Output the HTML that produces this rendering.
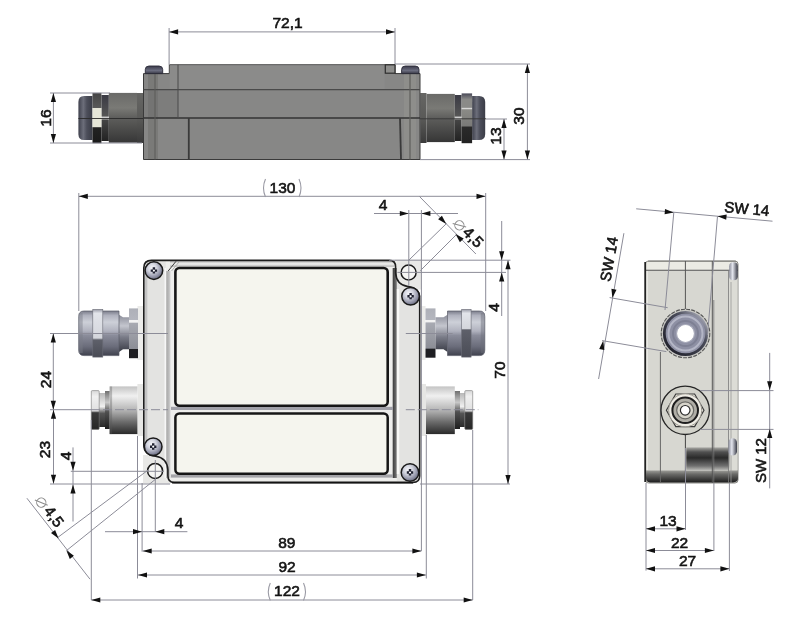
<!DOCTYPE html>
<html><head><meta charset="utf-8"><style>
html,body{margin:0;padding:0;background:#fff;width:800px;height:620px;overflow:hidden}
svg{display:block;will-change:transform}
text{font-family:"Liberation Sans",sans-serif;fill:#141414;stroke:#141414;stroke-width:0.6px}
</style></head><body>
<svg width="800" height="620" viewBox="0 0 800 620">
<defs>
<linearGradient id="gDarkCyl" x1="0" y1="0" x2="0" y2="1">
<stop offset="0" stop-color="#6a6a68"/><stop offset="0.3" stop-color="#7a7a76"/><stop offset="0.5" stop-color="#5e5e5c"/><stop offset="1" stop-color="#363636"/></linearGradient>
<linearGradient id="gDarkCapH" x1="0" y1="0" x2="1" y2="0">
<stop offset="0" stop-color="#3e404c"/><stop offset="0.35" stop-color="#6c6e7a"/><stop offset="0.6" stop-color="#4c4e5a"/><stop offset="1" stop-color="#3a3c46"/></linearGradient>
<linearGradient id="gFlangeT" x1="0" y1="0" x2="0" y2="1">
<stop offset="0" stop-color="#666664"/><stop offset="0.5" stop-color="#5a5a58"/><stop offset="1" stop-color="#3a3a3a"/></linearGradient>
<linearGradient id="gRingT" x1="0" y1="0" x2="0" y2="1">
<stop offset="0" stop-color="#3a3a44"/><stop offset="0.45" stop-color="#555"/><stop offset="0.5" stop-color="#eee"/><stop offset="0.55" stop-color="#444"/><stop offset="1" stop-color="#222"/></linearGradient>
<linearGradient id="gNutR" x1="0" y1="0" x2="0" y2="1">
<stop offset="0" stop-color="#4a4a58"/><stop offset="0.12" stop-color="#8a8a88"/><stop offset="0.28" stop-color="#8a8a88"/><stop offset="0.3" stop-color="#e0e0e0"/><stop offset="0.33" stop-color="#8a8a86"/><stop offset="0.65" stop-color="#7a7a78"/><stop offset="0.68" stop-color="#2a2a2a"/><stop offset="1" stop-color="#222"/></linearGradient>
<linearGradient id="gDarkCap" x1="0" y1="0" x2="0" y2="1">
<stop offset="0" stop-color="#4c4c54"/><stop offset="0.4" stop-color="#6a6a72"/><stop offset="1" stop-color="#3a3a40"/></linearGradient>
<linearGradient id="gNut" x1="0" y1="0" x2="0" y2="1">
<stop offset="0" stop-color="#444"/><stop offset="0.3" stop-color="#5a5a5a"/><stop offset="0.31" stop-color="#e6e6d8"/><stop offset="0.68" stop-color="#e6e6d8"/><stop offset="0.69" stop-color="#222"/><stop offset="1" stop-color="#1a1a1a"/></linearGradient>
<linearGradient id="gScrewTop" x1="0" y1="0" x2="0" y2="1">
<stop offset="0" stop-color="#3a3a4a"/><stop offset="0.6" stop-color="#6a6c7e"/><stop offset="1" stop-color="#3a3a48"/></linearGradient>
<linearGradient id="gMetal" x1="0" y1="0" x2="0" y2="1">
<stop offset="0" stop-color="#8a8c98"/><stop offset="0.25" stop-color="#d2d4dc"/><stop offset="0.55" stop-color="#a4a6b2"/><stop offset="1" stop-color="#5a5c68"/></linearGradient>
<linearGradient id="gMetal2" x1="0" y1="0" x2="0" y2="1">
<stop offset="0" stop-color="#9a9ca8"/><stop offset="0.3" stop-color="#e4e6ec"/><stop offset="0.5" stop-color="#b8bac4"/><stop offset="1" stop-color="#4a4c58"/></linearGradient>
<linearGradient id="gNutL" x1="0" y1="0" x2="0" y2="1">
<stop offset="0" stop-color="#9a9ca6"/><stop offset="0.5" stop-color="#c4c6ce"/><stop offset="0.75" stop-color="#6a6c76"/><stop offset="1" stop-color="#2a2a30"/></linearGradient>
<linearGradient id="gCyl" x1="0" y1="0" x2="0" y2="1">
<stop offset="0" stop-color="#c4c4c4"/><stop offset="0.2" stop-color="#f0f0f0"/><stop offset="0.5" stop-color="#b4b4b4"/><stop offset="0.75" stop-color="#6a6a6a"/><stop offset="1" stop-color="#2a2a2a"/></linearGradient>
<radialGradient id="gScrew" cx="0.4" cy="0.35" r="0.7">
<stop offset="0" stop-color="#f6f6fa"/><stop offset="0.35" stop-color="#d4d6e0"/><stop offset="0.75" stop-color="#8e90a4"/><stop offset="1" stop-color="#5c5e70"/></radialGradient>
<linearGradient id="gBottom" x1="0" y1="0" x2="0" y2="1">
<stop offset="0" stop-color="#9a9a96"/><stop offset="0.3" stop-color="#6a6a68"/><stop offset="1" stop-color="#1e1e1e"/></linearGradient>
<linearGradient id="gRecess" x1="0" y1="0" x2="0" y2="1">
<stop offset="0" stop-color="#a8a8a4"/><stop offset="0.2" stop-color="#505050"/><stop offset="0.45" stop-color="#2a2a2a"/><stop offset="0.8" stop-color="#707070"/><stop offset="1" stop-color="#c0c0bc"/></linearGradient>
<radialGradient id="gRingBlue" cx="0.5" cy="0.5" r="0.5">
<stop offset="0.4" stop-color="#e8e8f0"/><stop offset="0.65" stop-color="#9ea0b4"/><stop offset="0.85" stop-color="#6e7088"/><stop offset="1" stop-color="#30303a"/></radialGradient>
<linearGradient id="gScrewSide" x1="0" y1="0" x2="1" y2="0">
<stop offset="0" stop-color="#8a8c9a"/><stop offset="0.4" stop-color="#e4e6ee"/><stop offset="1" stop-color="#3a3c48"/></linearGradient>
<linearGradient id="gCap" x1="0" y1="0" x2="0" y2="1">
<stop offset="0" stop-color="#7a7c8a"/><stop offset="0.1" stop-color="#b0b2be"/><stop offset="0.25" stop-color="#cdd0d8"/><stop offset="0.45" stop-color="#b0b2be"/><stop offset="0.55" stop-color="#8a8c9a"/><stop offset="0.8" stop-color="#6a6c7a"/><stop offset="1" stop-color="#40424e"/></linearGradient>
<linearGradient id="gRingL" x1="0" y1="0" x2="0" y2="1">
<stop offset="0" stop-color="#9a9ca8"/><stop offset="0.08" stop-color="#e2e4ea"/><stop offset="0.6" stop-color="#d4d6dc"/><stop offset="0.64" stop-color="#5e606a"/><stop offset="1" stop-color="#4a4c56"/></linearGradient>
<linearGradient id="gRingR" x1="0" y1="0" x2="0" y2="1">
<stop offset="0" stop-color="#9a9ca8"/><stop offset="0.08" stop-color="#e2e4ea"/><stop offset="0.4" stop-color="#d4d6dc"/><stop offset="0.43" stop-color="#5e606a"/><stop offset="1" stop-color="#4a4c56"/></linearGradient>
<linearGradient id="gNeck" x1="0" y1="0" x2="0" y2="1">
<stop offset="0" stop-color="#8a8c98"/><stop offset="0.3" stop-color="#c4c6ce"/><stop offset="0.6" stop-color="#7a7c88"/><stop offset="1" stop-color="#3a3c46"/></linearGradient>
<linearGradient id="gHex" x1="0" y1="0" x2="0" y2="1">
<stop offset="0" stop-color="#aeb0b8"/><stop offset="0.23" stop-color="#b4b6be"/><stop offset="0.24" stop-color="#f2f2f2"/><stop offset="0.28" stop-color="#f2f2f2"/><stop offset="0.29" stop-color="#a8aab2"/><stop offset="0.81" stop-color="#8c8e96"/><stop offset="0.82" stop-color="#1e1e22"/><stop offset="1" stop-color="#1e1e22"/></linearGradient>
<linearGradient id="gWasher" x1="0" y1="0" x2="0" y2="1">
<stop offset="0" stop-color="#707070"/><stop offset="0.3" stop-color="#c8c8c8"/><stop offset="0.55" stop-color="#505050"/><stop offset="1" stop-color="#1e1e1e"/></linearGradient>
<linearGradient id="gSmallNeck" x1="0" y1="0" x2="0" y2="1">
<stop offset="0" stop-color="#b8b8b8"/><stop offset="0.4" stop-color="#f0f0f0"/><stop offset="0.6" stop-color="#555"/><stop offset="1" stop-color="#2a2a2a"/></linearGradient>
<linearGradient id="gNutS" x1="0" y1="0" x2="0" y2="1">
<stop offset="0" stop-color="#d8d8d8"/><stop offset="0.15" stop-color="#f0f0f0"/><stop offset="0.52" stop-color="#e0e0e0"/><stop offset="0.57" stop-color="#3a3a3a"/><stop offset="1" stop-color="#262626"/></linearGradient>
<linearGradient id="gLidL" x1="0" y1="0" x2="1" y2="0">
<stop offset="0" stop-color="#a8a8a8"/><stop offset="0.6" stop-color="#bcbcbc"/><stop offset="1" stop-color="#d8d8d8"/></linearGradient>
<linearGradient id="gLidR" x1="0" y1="0" x2="1" y2="0">
<stop offset="0" stop-color="#3a3a3a"/><stop offset="1" stop-color="#7a7a7a"/></linearGradient>
<linearGradient id="gLidTop" x1="0" y1="0" x2="0" y2="1">
<stop offset="0" stop-color="#b8b8b8"/><stop offset="0.5" stop-color="#f2f2f0"/><stop offset="1" stop-color="#b0b0b0"/></linearGradient>
<linearGradient id="gRingStroke" x1="1" y1="0" x2="0" y2="1">
<stop offset="0" stop-color="#c8cad8"/><stop offset="0.35" stop-color="#4a4c5a"/><stop offset="1" stop-color="#1a1a24"/></linearGradient>
</defs>
<g id="topview">
<rect x="137" y="93" width="6.5" height="50" fill="url(#gFlangeT)"/>
<rect x="108.8" y="92.9" width="28.2" height="49.8" fill="url(#gDarkCyl)"/>
<path d="M92.5,96 L84,96 Q78.4,96 78.4,102 L78.4,134 Q78.4,140 84,140 L92.5,140 Z" fill="url(#gDarkCapH)"/>
<rect x="101.4" y="95" width="7.4" height="46" fill="url(#gRingT)"/>
<rect x="92.5" y="92.9" width="8.9" height="50.3" fill="url(#gNut)"/>
<rect x="420.2" y="93" width="6.3" height="50" fill="url(#gFlangeT)"/>
<rect x="426.5" y="93.9" width="28.3" height="48.2" fill="url(#gDarkCyl)"/>
<path d="M472.1,96 L479,96 Q485.2,96 485.2,102 L485.2,134 Q485.2,140 479,140 L472.1,140 Z" fill="url(#gDarkCapH)"/>
<rect x="454.8" y="95" width="6.8" height="46" fill="url(#gRingT)"/>
<rect x="461.6" y="93.4" width="10.5" height="49.8" fill="url(#gNutR)"/>
<line x1="78.4" y1="118.5" x2="143.5" y2="118.5" stroke="#2a2a2a" stroke-width="0.9" />
<path d="M143.5,73.6 L169.3,73.6 L169.3,64.8 L395,64.8 L395,73.6 L420,73.6 L420,159.5 L143.5,159.5 Z" fill="#878786" stroke="#3a3a3a" stroke-width="1"/>
<rect x="169.8" y="65.3" width="215" height="24" fill="#8b8b8a"/>
<rect x="148" y="74" width="10" height="85" fill="#6e6e6a" opacity="0.5"/>
<rect x="404" y="74" width="12" height="85" fill="#9a9a96" opacity="0.35"/>
<rect x="144" y="90" width="34" height="28" fill="#6a6a6a" opacity="0.35"/>
<line x1="143.5" y1="89.6" x2="420.0" y2="89.6" stroke="#4a4a4a" stroke-width="1.2" />
<line x1="143.5" y1="118.0" x2="420.0" y2="118.0" stroke="#333" stroke-width="1.4" />
<line x1="178.0" y1="64.8" x2="178.0" y2="118.0" stroke="#4a4a4a" stroke-width="1" />
<line x1="188.8" y1="118.0" x2="188.8" y2="159.5" stroke="#3a3a3a" stroke-width="1.8" />
<line x1="155.0" y1="73.6" x2="155.0" y2="159.5" stroke="#5a5a58" stroke-width="1" />
<line x1="400.0" y1="118.0" x2="401.0" y2="159.5" stroke="#3a3a3a" stroke-width="1.8" />
<line x1="410.0" y1="73.6" x2="410.0" y2="159.5" stroke="#5e5e5c" stroke-width="1.2" />
<rect x="385.3" y="64.8" width="9.7" height="8.4" fill="#8e8e8c" stroke="#2e2e2e" stroke-width="1.2"/>
<path d="M145.3,73.6 L145.3,69.5 Q145.3,66 149,66 L159,66 Q162.7,66 162.7,69.5 L162.7,73.6 Z" fill="url(#gScrewTop)" stroke="#2a2a38" stroke-width="0.9"/>
<path d="M401.6,73.6 L401.6,69.5 Q401.6,66 405.3,66 L415.3,66 Q419,66 419,69.5 L419,73.6 Z" fill="url(#gScrewTop)" stroke="#2a2a38" stroke-width="0.9"/>
</g>
<g id="frontview">
<rect x="137.5" y="306" width="6" height="54" fill="#ececea"/>
<rect x="129" y="308.4" width="9" height="49.8" fill="url(#gHex)"/>
<path d="M119,314.7 L123,317.3 L129,317.3 L129,349.3 L123,349.3 L119,352 Z" fill="url(#gNeck)"/>
<path d="M84,311 L119,311 L119,355.6 L84,355.6 Q78.7,355.6 78.7,350 L78.7,316.6 Q78.7,311 84,311 Z" fill="url(#gCap)" stroke="#5a5c68" stroke-width="0.7"/>
<rect x="78.7" y="313" width="4" height="40" fill="#7a7c88" opacity="0.45"/>
<rect x="92.8" y="309.4" width="10" height="47.7" fill="url(#gRingL)" stroke="#6a6c76" stroke-width="0.6"/>
<rect x="137.4" y="384" width="6" height="52" fill="#e6e6e4"/>
<rect x="109.6" y="386.4" width="27.8" height="47.7" fill="url(#gCyl)"/>
<rect x="109.6" y="386.4" width="2.5" height="47.7" fill="#555" opacity="0.35"/>
<rect x="105" y="391" width="4.6" height="38" fill="url(#gWasher)"/>
<rect x="99" y="393" width="6" height="34" fill="url(#gSmallNeck)"/>
<rect x="91.3" y="390.6" width="7.9" height="38.8" rx="1" fill="url(#gNutS)" stroke="#777" stroke-width="0.6"/>
<rect x="420.8" y="306" width="4.7" height="54" fill="#ececea"/>
<rect x="425.5" y="308.4" width="10" height="49.3" fill="url(#gHex)"/>
<path d="M435.5,317.3 L443.5,317.3 L447.5,314.7 L447.5,352 L443.5,349.3 L435.5,349.3 Z" fill="url(#gNeck)"/>
<path d="M447.5,311 L479.5,311 Q484.8,311 484.8,316.6 L484.8,350 Q484.8,355.6 479.5,355.6 L447.5,355.6 Z" fill="url(#gCap)" stroke="#5a5c68" stroke-width="0.7"/>
<rect x="480.8" y="313" width="4" height="40" fill="#6a6c78" opacity="0.45"/>
<rect x="461.7" y="309.4" width="9.4" height="47.7" fill="url(#gRingR)" stroke="#6a6c76" stroke-width="0.6"/>
<rect x="420.8" y="384" width="5.2" height="52" fill="#e6e6e4"/>
<rect x="426" y="386.4" width="28.8" height="47.7" fill="url(#gCyl)"/>
<rect x="454.8" y="391" width="5.2" height="38" fill="url(#gWasher)"/>
<rect x="460" y="393" width="4.8" height="34" fill="url(#gSmallNeck)"/>
<rect x="464.8" y="390.6" width="7.9" height="38.8" rx="1" fill="url(#gNutS)" stroke="#777" stroke-width="0.6"/>
<rect x="395" y="259.6" width="26" height="30" fill="#e8e8e6"/>
<rect x="143" y="455" width="28" height="28.5" fill="#e8e8e6"/>
<path d="M151.5,260.4 L389.4,260.4 Q395.6,260.4 395.6,267 L395.6,273 Q396.5,285 408,286.5 Q419.7,288 419.7,298 L419.7,476 Q419.7,482.4 413,482.4 L174.1,482.4 Q167.9,482.4 167.9,475.8 L167.9,469.8 Q167,457.8 155.5,456.3 Q143.8,454.8 143.8,444.8 L143.8,268 Q143.8,260.4 151.5,260.4 Z" fill="#e3e3e1"/>
<rect x="144.8" y="268" width="2.5" height="178" fill="#c4c4c4"/>
<rect x="165.8" y="261.2" width="231" height="219.6" fill="#eeeeec"/>
<rect x="166.3" y="271" width="4.3" height="207" fill="url(#gLidL)"/>
<rect x="164.6" y="268" width="1.2" height="210" fill="#fbfbfb"/>
<rect x="392.7" y="268" width="4.1" height="210" fill="url(#gLidR)"/>
<rect x="396.8" y="289" width="2.4" height="185" fill="#f8f8f6"/>
<rect x="170" y="261.2" width="224" height="5.5" fill="url(#gLidTop)"/>
<rect x="171" y="474.4" width="222" height="3.2" fill="#a4a4a8"/>
<rect x="171" y="406.8" width="222" height="3.2" fill="#a0a0a8"/>
<path d="M168.2,271 L176,261.3" stroke="#3a3a3a" stroke-width="1" fill="none"/><path d="M171.5,271 L179,262" stroke="#9a9a9a" stroke-width="0.7" fill="none"/>
<rect x="175.4" y="268" width="212.3" height="137.8" rx="4" fill="#f5f5ee" stroke="#161616" stroke-width="2.6"/>
<rect x="175.4" y="413.4" width="212.3" height="60.3" rx="4" fill="#f5f5ee" stroke="#161616" stroke-width="2.5"/>
<path d="M151.5,260.4 L389.4,260.4 Q395.6,260.4 395.6,267 L395.6,273 Q396.5,285 408,286.5 Q419.7,288 419.7,298 L419.7,476 Q419.7,482.4 413,482.4 L174.1,482.4 Q167.9,482.4 167.9,475.8 L167.9,469.8 Q167,457.8 155.5,456.3 Q143.8,454.8 143.8,444.8 L143.8,268 Q143.8,260.4 151.5,260.4 Z" fill="none" stroke="#1e1e1e" stroke-width="1.6"/>
<line x1="172.0" y1="482.8" x2="413.0" y2="482.8" stroke="#111" stroke-width="1.3" />
<circle cx="153.9" cy="270.6" r="8.8" fill="url(#gScrew)" stroke="#1a1a1a" stroke-width="1.5"/>
<path d="M150.70000000000002,270.6 h6.4 M153.9,267.20000000000005 v6.4" stroke="#1e2030" stroke-width="2.4"/>
<circle cx="153.9" cy="270.6" r="1.1" fill="#fff"/>
<circle cx="410.6" cy="296.3" r="8.8" fill="url(#gScrew)" stroke="#1a1a1a" stroke-width="1.5"/>
<path d="M407.40000000000003,296.3 h6.4 M410.6,292.90000000000003 v6.4" stroke="#1e2030" stroke-width="2.4"/>
<circle cx="410.6" cy="296.3" r="1.1" fill="#fff"/>
<circle cx="153.2" cy="446.7" r="8.8" fill="url(#gScrew)" stroke="#1a1a1a" stroke-width="1.5"/>
<path d="M150.0,446.7 h6.4 M153.2,443.3 v6.4" stroke="#1e2030" stroke-width="2.4"/>
<circle cx="153.2" cy="446.7" r="1.1" fill="#fff"/>
<circle cx="410" cy="472.5" r="8.8" fill="url(#gScrew)" stroke="#1a1a1a" stroke-width="1.5"/>
<path d="M406.8,472.5 h6.4 M410,469.1 v6.4" stroke="#1e2030" stroke-width="2.4"/>
<circle cx="410" cy="472.5" r="1.1" fill="#fff"/>
<circle cx="408.6" cy="272.5" r="7.5" fill="#f6f6f4" stroke="#1a1a1a" stroke-width="1.5"/>
<circle cx="155.1" cy="470.9" r="7.5" fill="#f6f6f4" stroke="#1a1a1a" stroke-width="1.5"/>
</g>
<g id="sideview">
<rect x="645.5" y="261" width="92.5" height="222" rx="3" fill="#d7d7d1" stroke="#8a8a86" stroke-width="1"/>
<rect x="729" y="270" width="8.5" height="200" fill="#dcdcd6"/>
<path d="M648,261.7 L735,261.7 Q737.3,261.7 737.3,264 L737.3,270.2 L646.2,270.2 L646.2,264 Q646.2,261.7 648,261.7 Z" fill="#ebebe4"/>
<line x1="645.5" y1="270.2" x2="738.0" y2="270.2" stroke="#555" stroke-width="1.1" />
<line x1="648.0" y1="261.2" x2="736.0" y2="261.2" stroke="#7a7a76" stroke-width="1" />
<line x1="645.2" y1="262.0" x2="645.2" y2="482.0" stroke="#222" stroke-width="1.8" />
<line x1="647.2" y1="271.0" x2="647.2" y2="470.0" stroke="#f0f0ec" stroke-width="1" />
<path d="M646,470.6 L738,470.6 L738,478 Q738,482.4 733,482.4 L650,482.4 Q646,482.4 646,478 Z" fill="url(#gBottom)"/>
<rect x="686.3" y="447.4" width="43" height="23.2" fill="url(#gRecess)"/>
<line x1="685.4" y1="261.0" x2="685.4" y2="309.0" stroke="#555" stroke-width="1" />
<line x1="685.4" y1="434.0" x2="685.4" y2="483.0" stroke="#444" stroke-width="1" />
<line x1="712.3" y1="261.0" x2="712.3" y2="483.0" stroke="#555" stroke-width="1" />
<line x1="713.8" y1="300.0" x2="713.8" y2="483.0" stroke="#777" stroke-width="0.8" />
<line x1="728.5" y1="270.0" x2="728.5" y2="483.0" stroke="#7a7a7a" stroke-width="0.8" />
<line x1="731.0" y1="282.0" x2="731.0" y2="483.0" stroke="#9a9a9a" stroke-width="0.8" />
<line x1="660.4" y1="352.0" x2="660.4" y2="482.0" stroke="#666" stroke-width="1" />
<circle cx="685.5" cy="333.5" r="24.3" fill="#c8c8c4" stroke="#555" stroke-width="1.1" stroke-dasharray="4 1.2"/>
<circle cx="685.5" cy="333.5" r="21.2" fill="#8e90a4" stroke="url(#gRingStroke)" stroke-width="2.8"/>
<circle cx="685.5" cy="333.5" r="17" fill="none" stroke="#b4b6c6" stroke-width="2"/>
<circle cx="685.5" cy="333.5" r="12.5" fill="none" stroke="#7e8094" stroke-width="2"/>
<circle cx="685.5" cy="333.5" r="9" fill="#ffffff" stroke="#a8aaba" stroke-width="1.2"/>
<circle cx="685.2" cy="410.3" r="24.2" fill="#d2d2ca" stroke="#262626" stroke-width="1.3"/>
<polygon points="704,410.3 694.6,394 675.8,394 666.4,410.3 675.8,426.6 694.6,426.6" fill="#e6e4da" stroke="#3a3a3a" stroke-width="1.2"/>
<circle cx="685.2" cy="410.3" r="16.5" fill="#eeece4" stroke="#9a9890" stroke-width="1"/>
<circle cx="685.2" cy="410.3" r="12.8" fill="#b0aea6" stroke="#1e1e1e" stroke-width="2"/>
<circle cx="685.2" cy="410.3" r="8.5" fill="#d6d4ca" stroke="#6a6a66" stroke-width="1.2"/>
<circle cx="685.2" cy="410.3" r="4.8" fill="#ffffff" stroke="#2a2a2a" stroke-width="1.2"/>
<rect x="729.2" y="262.2" width="8.6" height="18" rx="4" fill="url(#gScrewSide)"/>
<rect x="728.4" y="438.2" width="8.6" height="17.4" rx="4.3" fill="url(#gScrewSide)"/>
</g>
<g id="dims">
<line x1="169.1" y1="28.0" x2="169.1" y2="64.8" stroke="#8c8c98" stroke-width="1" />
<line x1="395.0" y1="28.0" x2="395.0" y2="64.0" stroke="#8c8c98" stroke-width="1" />
<line x1="169.1" y1="31.9" x2="395.0" y2="31.9" stroke="#8c8c98" stroke-width="1" />
<polygon points="169.1,31.9 178.1,29.3 178.1,34.5" fill="#111"/>
<polygon points="395.0,31.9 386.0,34.5 386.0,29.3" fill="#111"/>
<text x="287.5" y="22.5" font-size="15.5" text-anchor="middle" dominant-baseline="central">72,1</text>
<line x1="50.0" y1="93.0" x2="110.0" y2="93.0" stroke="#8c8c98" stroke-width="1" />
<line x1="50.0" y1="143.0" x2="142.0" y2="143.0" stroke="#8c8c98" stroke-width="1" />
<line x1="53.4" y1="93.0" x2="53.4" y2="143.0" stroke="#8c8c98" stroke-width="1" />
<polygon points="53.4,93.0 56.0,102.0 50.8,102.0" fill="#111"/>
<polygon points="53.4,143.0 50.8,134.0 56.0,134.0" fill="#111"/>
<text x="45.0" y="118.0" font-size="15.5" text-anchor="middle" dominant-baseline="central" transform="rotate(-90 45.0 118.0)">16</text>
<line x1="395.0" y1="64.0" x2="530.0" y2="64.0" stroke="#8c8c98" stroke-width="1" />
<line x1="420.0" y1="159.6" x2="530.0" y2="159.6" stroke="#8c8c98" stroke-width="1" />
<line x1="527.4" y1="64.0" x2="527.4" y2="159.6" stroke="#8c8c98" stroke-width="1" />
<polygon points="527.4,64.0 530.0,73.0 524.8,73.0" fill="#111"/>
<polygon points="527.4,159.6 524.8,150.6 530.0,150.6" fill="#111"/>
<text x="518.5" y="116.0" font-size="15.5" text-anchor="middle" dominant-baseline="central" transform="rotate(-90 518.5 116.0)">30</text>
<line x1="420.0" y1="118.8" x2="486.0" y2="118.8" stroke="#3a3a3a" stroke-width="1" />
<line x1="486.0" y1="119.0" x2="507.0" y2="119.0" stroke="#8c8c98" stroke-width="1" />
<line x1="504.0" y1="119.0" x2="504.0" y2="159.6" stroke="#8c8c98" stroke-width="1" />
<polygon points="504.0,119.0 506.6,128.0 501.4,128.0" fill="#111"/>
<polygon points="504.0,159.6 501.4,150.6 506.6,150.6" fill="#111"/>
<text x="495.5" y="136.0" font-size="15.5" text-anchor="middle" dominant-baseline="central" transform="rotate(-90 495.5 136.0)">13</text>
<line x1="78.8" y1="193.0" x2="78.8" y2="311.0" stroke="#8c8c98" stroke-width="1" />
<line x1="485.7" y1="193.0" x2="485.7" y2="311.0" stroke="#8c8c98" stroke-width="1" />
<line x1="78.8" y1="196.3" x2="485.5" y2="196.3" stroke="#8c8c98" stroke-width="1" />
<polygon points="78.8,196.3 87.8,193.7 87.8,198.9" fill="#111"/>
<polygon points="485.5,196.3 476.5,198.9 476.5,193.7" fill="#111"/>
<text x="282.5" y="187.0" font-size="15.5" text-anchor="middle" dominant-baseline="central">130</text>
<path d="M265.5,179.0 Q261.5,188.0 265.5,197.0" fill="none" stroke="#9a9aa4" stroke-width="1.1"/>
<path d="M299.0,179.0 Q303.0,188.0 299.0,197.0" fill="none" stroke="#9a9aa4" stroke-width="1.1"/>
<line x1="374.0" y1="213.5" x2="458.0" y2="213.5" stroke="#8c8c98" stroke-width="1" />
<polygon points="408.8,213.5 399.8,216.1 399.8,210.9" fill="#111"/>
<polygon points="421.4,213.5 430.4,210.9 430.4,216.1" fill="#111"/>
<text x="383.0" y="204.5" font-size="15.5" text-anchor="middle" dominant-baseline="central">4</text>
<line x1="408.8" y1="210.0" x2="408.8" y2="286.0" stroke="#8c8c98" stroke-width="1" />
<line x1="421.4" y1="210.0" x2="421.4" y2="551.0" stroke="#8c8c98" stroke-width="1" />
<line x1="419.3" y1="196.3" x2="475.9" y2="254.0" stroke="#8c8c98" stroke-width="1" />
<line x1="408.8" y1="260.2" x2="446.5" y2="223.5" stroke="#8c8c98" stroke-width="1" />
<line x1="420.3" y1="270.7" x2="457.0" y2="234.0" stroke="#8c8c98" stroke-width="1" />
<polygon points="446.3,223.9 438.1,219.3 441.9,215.7" fill="#111"/>
<polygon points="455.5,234.0 463.7,238.6 459.9,242.2" fill="#111"/>
<g transform="translate(459.4 225.3) rotate(45)"><circle cx="0" cy="0" r="4.6" fill="none" stroke="#8a8a8a" stroke-width="1"/><line x1="-6" y1="3.5" x2="6" y2="-3.5" stroke="#8a8a8a" stroke-width="1"/></g>
<text x="473.3" y="237.0" font-size="15.5" text-anchor="middle" dominant-baseline="central" transform="rotate(45 473.3 237.0)">4,5</text>
<line x1="389.0" y1="260.2" x2="510.5" y2="260.2" stroke="#8c8c98" stroke-width="1" />
<line x1="397.4" y1="272.4" x2="506.0" y2="272.4" stroke="#8c8c98" stroke-width="1" />
<line x1="501.7" y1="221.0" x2="501.7" y2="316.0" stroke="#8c8c98" stroke-width="1" />
<polygon points="501.7,260.2 499.1,251.2 504.3,251.2" fill="#111"/>
<polygon points="501.7,272.6 504.3,281.6 499.1,281.6" fill="#111"/>
<text x="493.5" y="307.5" font-size="15.5" text-anchor="middle" dominant-baseline="central" transform="rotate(-90 493.5 307.5)">4</text>
<line x1="420.0" y1="484.0" x2="510.0" y2="484.0" stroke="#8c8c98" stroke-width="1" />
<line x1="508.0" y1="260.2" x2="508.0" y2="484.0" stroke="#8c8c98" stroke-width="1" />
<polygon points="508.0,260.2 510.6,269.2 505.4,269.2" fill="#111"/>
<polygon points="508.0,484.0 505.4,475.0 510.6,475.0" fill="#111"/>
<text x="499.5" y="370.0" font-size="15.5" text-anchor="middle" dominant-baseline="central" transform="rotate(-90 499.5 370.0)">70</text>
<line x1="50.0" y1="333.5" x2="168.0" y2="333.5" stroke="#8c8c98" stroke-width="1" />
<line x1="50.0" y1="409.7" x2="91.0" y2="409.7" stroke="#8c8c98" stroke-width="1" />
<line x1="91.0" y1="409.7" x2="168.0" y2="409.7" stroke="#8c8c98" stroke-width="1" stroke-dasharray="9 3"/>
<line x1="405.8" y1="333.5" x2="452.6" y2="333.5" stroke="#8c8c98" stroke-width="1" />
<line x1="405.8" y1="409.7" x2="478.4" y2="409.7" stroke="#8c8c98" stroke-width="1" stroke-dasharray="9 3"/>
<line x1="53.3" y1="333.5" x2="53.3" y2="409.7" stroke="#8c8c98" stroke-width="1" />
<polygon points="53.3,333.5 55.9,342.5 50.7,342.5" fill="#111"/>
<polygon points="53.3,409.7 50.7,400.7 55.9,400.7" fill="#111"/>
<text x="45.5" y="379.5" font-size="15.5" text-anchor="middle" dominant-baseline="central" transform="rotate(-90 45.5 379.5)">24</text>
<line x1="53.5" y1="409.7" x2="53.5" y2="483.7" stroke="#8c8c98" stroke-width="1" />
<polygon points="53.5,409.7 56.1,418.7 50.9,418.7" fill="#111"/>
<polygon points="53.5,483.7 50.9,474.7 56.1,474.7" fill="#111"/>
<text x="44.5" y="449.5" font-size="15.5" text-anchor="middle" dominant-baseline="central" transform="rotate(-90 44.5 449.5)">23</text>
<line x1="73.0" y1="447.4" x2="73.0" y2="521.5" stroke="#8c8c98" stroke-width="1" />
<polygon points="73.0,470.8 70.4,461.8 75.6,461.8" fill="#111"/>
<polygon points="73.0,484.5 75.6,493.5 70.4,493.5" fill="#111"/>
<text x="65.0" y="456.0" font-size="15.5" text-anchor="middle" dominant-baseline="central" transform="rotate(-90 65.0 456.0)">4</text>
<line x1="70.8" y1="471.3" x2="164.0" y2="471.3" stroke="#8c8c98" stroke-width="1" />
<line x1="50.0" y1="484.0" x2="170.0" y2="484.0" stroke="#8c8c98" stroke-width="1" />
<line x1="26.9" y1="498.2" x2="90.0" y2="579.2" stroke="#8c8c98" stroke-width="1" />
<line x1="149.0" y1="469.4" x2="57.0" y2="538.0" stroke="#8c8c98" stroke-width="1" />
<line x1="155.8" y1="479.0" x2="66.7" y2="550.4" stroke="#8c8c98" stroke-width="1" />
<polygon points="58.6,538.6 51.0,533.1 55.1,529.9" fill="#111"/>
<polygon points="66.3,550.2 73.9,555.7 69.8,558.9" fill="#111"/>
<g transform="translate(41.3 502.6) rotate(53)"><circle cx="0" cy="0" r="4.6" fill="none" stroke="#8a8a8a" stroke-width="1"/><line x1="-6" y1="3.5" x2="6" y2="-3.5" stroke="#8a8a8a" stroke-width="1"/></g>
<text x="54.1" y="516.4" font-size="15.5" text-anchor="middle" dominant-baseline="central" transform="rotate(53 54.1 516.4)">4,5</text>
<line x1="91.3" y1="420.0" x2="91.3" y2="600.0" stroke="#8c8c98" stroke-width="1" />
<line x1="137.5" y1="436.0" x2="137.5" y2="578.5" stroke="#8c8c98" stroke-width="1" />
<line x1="142.1" y1="483.0" x2="142.1" y2="551.7" stroke="#8c8c98" stroke-width="1" />
<line x1="155.3" y1="460.0" x2="155.3" y2="532.0" stroke="#8c8c98" stroke-width="1" />
<line x1="426.3" y1="435.0" x2="426.3" y2="578.5" stroke="#8c8c98" stroke-width="1" />
<line x1="472.7" y1="430.0" x2="472.7" y2="600.0" stroke="#8c8c98" stroke-width="1" />
<line x1="105.0" y1="531.7" x2="187.4" y2="531.7" stroke="#8c8c98" stroke-width="1" />
<polygon points="142.0,531.7 133.0,534.3 133.0,529.1" fill="#111"/>
<polygon points="155.3,531.7 164.3,529.1 164.3,534.3" fill="#111"/>
<text x="179.0" y="522.5" font-size="15.5" text-anchor="middle" dominant-baseline="central">4</text>
<line x1="142.7" y1="551.0" x2="421.4" y2="551.0" stroke="#8c8c98" stroke-width="1" />
<polygon points="142.7,551.0 151.7,548.4 151.7,553.6" fill="#111"/>
<polygon points="421.4,551.0 412.4,553.6 412.4,548.4" fill="#111"/>
<text x="286.8" y="542.0" font-size="15.5" text-anchor="middle" dominant-baseline="central">89</text>
<line x1="138.0" y1="575.0" x2="425.9" y2="575.0" stroke="#8c8c98" stroke-width="1" />
<polygon points="138.0,575.0 147.0,572.4 147.0,577.6" fill="#111"/>
<polygon points="425.9,575.0 416.9,577.6 416.9,572.4" fill="#111"/>
<text x="287.0" y="566.0" font-size="15.5" text-anchor="middle" dominant-baseline="central">92</text>
<line x1="91.3" y1="600.0" x2="472.7" y2="600.0" stroke="#8c8c98" stroke-width="1" />
<polygon points="91.3,600.0 100.3,597.4 100.3,602.6" fill="#111"/>
<polygon points="472.7,600.0 463.7,602.6 463.7,597.4" fill="#111"/>
<text x="287.0" y="590.7" font-size="15.5" text-anchor="middle" dominant-baseline="central">122</text>
<path d="M270.3,583.0 Q266.3,591.7 270.3,600.4" fill="none" stroke="#9a9aa4" stroke-width="1.1"/>
<path d="M303.5,583.0 Q307.5,591.7 303.5,600.4" fill="none" stroke="#9a9aa4" stroke-width="1.1"/>
<line x1="636.2" y1="208.8" x2="772.5" y2="221.2" stroke="#8c8c98" stroke-width="1" />
<polygon points="673.8,212.5 664.6,214.3 665.0,209.1" fill="#111"/>
<polygon points="717.5,216.2 726.7,214.5 726.2,219.7" fill="#111"/>
<line x1="673.8" y1="212.5" x2="665.0" y2="310.0" stroke="#8c8c98" stroke-width="1" />
<line x1="717.5" y1="216.2" x2="707.5" y2="335.0" stroke="#8c8c98" stroke-width="1" />
<text x="747.0" y="208.5" font-size="15" text-anchor="middle" dominant-baseline="central" transform="rotate(5 747.0 208.5)">SW 14</text>
<line x1="623.9" y1="233.2" x2="598.6" y2="379.0" stroke="#8c8c98" stroke-width="1" />
<polygon points="612.4,298.1 611.4,288.8 616.5,289.7" fill="#111"/>
<polygon points="603.3,340.6 604.3,349.9 599.2,349.0" fill="#111"/>
<line x1="609.6" y1="297.6" x2="667.7" y2="307.7" stroke="#8c8c98" stroke-width="1" />
<line x1="602.0" y1="340.6" x2="666.4" y2="351.6" stroke="#8c8c98" stroke-width="1" />
<text x="608.7" y="259.0" font-size="15" text-anchor="middle" dominant-baseline="central" transform="rotate(-80 608.7 259.0)">SW 14</text>
<line x1="700.0" y1="390.6" x2="773.5" y2="390.6" stroke="#8c8c98" stroke-width="1" />
<line x1="700.0" y1="429.4" x2="773.5" y2="429.4" stroke="#8c8c98" stroke-width="1" />
<line x1="769.7" y1="352.9" x2="769.7" y2="488.4" stroke="#8c8c98" stroke-width="1" />
<polygon points="769.7,390.3 767.1,381.3 772.3,381.3" fill="#111"/>
<polygon points="769.7,429.0 772.3,438.0 767.1,438.0" fill="#111"/>
<text x="761.0" y="460.6" font-size="15" text-anchor="middle" dominant-baseline="central" transform="rotate(-90 761.0 460.6)">SW 12</text>
<line x1="646.0" y1="483.0" x2="646.0" y2="570.6" stroke="#8c8c98" stroke-width="1" />
<line x1="685.5" y1="448.0" x2="685.5" y2="530.0" stroke="#8c8c98" stroke-width="1" />
<line x1="713.9" y1="483.0" x2="713.9" y2="551.0" stroke="#8c8c98" stroke-width="1" />
<line x1="729.4" y1="483.0" x2="729.4" y2="571.0" stroke="#8c8c98" stroke-width="1" />
<line x1="646.0" y1="528.8" x2="685.5" y2="528.8" stroke="#8c8c98" stroke-width="1" />
<polygon points="646.0,528.8 655.0,526.2 655.0,531.4" fill="#111"/>
<polygon points="685.5,528.8 676.5,531.4 676.5,526.2" fill="#111"/>
<text x="668.0" y="520.0" font-size="15.5" text-anchor="middle" dominant-baseline="central">13</text>
<line x1="646.0" y1="550.5" x2="713.9" y2="550.5" stroke="#8c8c98" stroke-width="1" />
<polygon points="646.0,550.5 655.0,547.9 655.0,553.1" fill="#111"/>
<polygon points="713.9,550.5 704.9,553.1 704.9,547.9" fill="#111"/>
<text x="679.5" y="542.0" font-size="15.5" text-anchor="middle" dominant-baseline="central">22</text>
<line x1="646.0" y1="568.8" x2="729.4" y2="568.8" stroke="#8c8c98" stroke-width="1" />
<polygon points="646.0,568.8 655.0,566.2 655.0,571.4" fill="#111"/>
<polygon points="729.4,568.8 720.4,571.4 720.4,566.2" fill="#111"/>
<text x="687.5" y="560.0" font-size="15.5" text-anchor="middle" dominant-baseline="central">27</text>
</g>
</svg></body></html>
